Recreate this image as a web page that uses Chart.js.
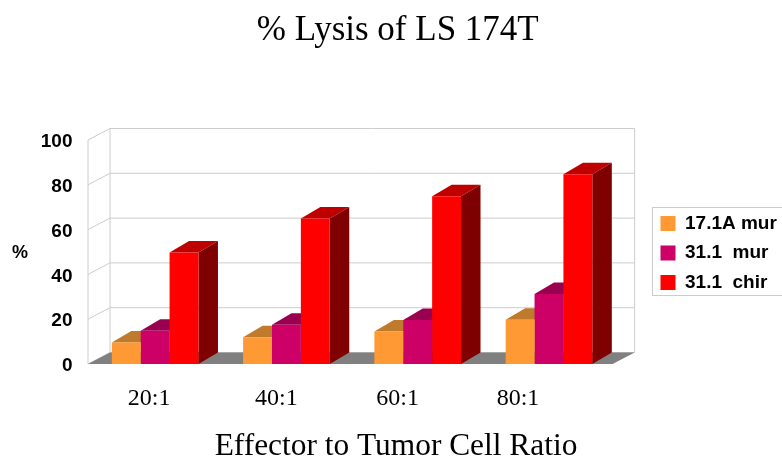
<!DOCTYPE html>
<html>
<head>
<meta charset="utf-8">
<title>% Lysis of LS 174T</title>
<script src="https://cdn.jsdelivr.net/npm/chart.js@4"></script>
<style>
  html, body { margin: 0; padding: 0; background: #fff; }
  #wrap { width: 782px; height: 456px; }
</style>
</head>
<body>
<div id="wrap"><canvas id="grafico" width="782" height="456"></canvas></div>
<script>
// ---- Data ----
const titulo = "% Lysis of LS 174T";
const tituloX = "Effector to Tumor Cell Ratio";
const tituloY = "%";
const categorias = ["20:1", "40:1", "60:1", "80:1"];
const serieNomes = ["17.1A mur", "31.1  mur", "31.1  chir"];
const mur171 = [9.6, 11.9, 14.5, 19.8];
const mur311 = [14.8, 17.5, 19.6, 31.2];
const chir311 = [49.8, 64.9, 74.9, 84.7];
const yTicks = [0, 20, 40, 60, 80, 100];

// the category labels sit left of their bar groups in the original
const labelNudge = [-6, -10, -20, -31];

const corFrente = ["#FF9933", "#CC0066", "#FF0000"];
const corTopo = ["#BF7A2B", "#99004F", "#BF0000"];
const corLado = ["#804D1A", "#660033", "#7F0000"];

const SERIF = "'Liberation Serif', serif";
const SANS = "'Liberation Sans', sans-serif";

// ---- Fake 3D: walls and floor behind, tops and sides of the bars ----
const caixa3d = {
  id: "caixa3d",
  afterLayout(chart) {
    const leg = chart.legend;
    const largura = leg.right - leg.left;
    leg.left = 650;
    leg.right = 650 + largura;
    leg.top = 203.5;
    leg.bottom = 340;
    chart.titleBlock.left += 22;
    chart.titleBlock.right += 22;
  },
  beforeDatasetsDraw(chart) {
    const { ctx, chartArea: a, scales } = chart;
    const frenteE = a.left - 1.5, frenteD = a.right - 2;
    const dx = 22, dy = 11.5;
    const y0 = scales.y.getPixelForValue(0);

    ctx.save();
    ctx.lineWidth = 1;
    ctx.strokeStyle = "#CCCCCC";

    // left wall + back wall gridlines
    yTicks.forEach((t) => {
      const y = scales.y.getPixelForValue(t);
      ctx.beginPath();
      ctx.moveTo(frenteE, y);
      ctx.lineTo(frenteE + dx, y - dy);
      ctx.lineTo(frenteD + dx, y - dy);
      ctx.stroke();
    });
    const yTop = scales.y.getPixelForValue(100);
    ctx.beginPath();
    ctx.moveTo(frenteE, y0); ctx.lineTo(frenteE, yTop);
    ctx.moveTo(frenteE + dx, y0 - dy); ctx.lineTo(frenteE + dx, yTop - dy);
    ctx.moveTo(frenteD + dx, y0 - dy); ctx.lineTo(frenteD + dx, yTop - dy);
    ctx.stroke();

    // floor
    ctx.fillStyle = "#808080";
    ctx.beginPath();
    ctx.moveTo(frenteE, y0);
    ctx.lineTo(frenteE + dx, y0 - dy);
    ctx.lineTo(frenteD + dx, y0 - dy);
    ctx.lineTo(frenteD, y0);
    ctx.closePath();
    ctx.fill();

    // tops and sides, fronts are painted over them by Chart.js
    const bx = 19.5, by = 11.5;
    chart.data.datasets.forEach((ds, i) => {
      chart.getDatasetMeta(i).data.forEach((bar) => {
        const e = bar.x - bar.width / 2, d = bar.x + bar.width / 2;
        ctx.fillStyle = corTopo[i];
        ctx.beginPath();
        ctx.moveTo(e, bar.y);
        ctx.lineTo(e + bx, bar.y - by);
        ctx.lineTo(d + bx, bar.y - by);
        ctx.lineTo(d, bar.y);
        ctx.closePath();
        ctx.fill();

        ctx.fillStyle = corLado[i];
        ctx.beginPath();
        ctx.moveTo(d, bar.y);
        ctx.lineTo(d + bx, bar.y - by);
        ctx.lineTo(d + bx, y0 - by);
        ctx.lineTo(d, y0);
        ctx.closePath();
        ctx.fill();
      });
    });
    ctx.restore();
  },
  afterDraw(chart) {
    const { ctx, scales } = chart;
    ctx.save();

    // legend frame
    ctx.strokeStyle = "#CCCCCC";
    ctx.lineWidth = 1;
    ctx.strokeRect(652.5, 207.5, 140, 88);

    // labels the scales cannot place where the original has them
    ctx.fillStyle = "#000";
    ctx.textAlign = "center";
    ctx.textBaseline = "middle";
    ctx.font = "24px " + SERIF;
    categorias.forEach((c, i) => {
      ctx.fillText(c, scales.x.getPixelForTick(i) + labelNudge[i], 399);
    });
    ctx.font = "31.4px " + SERIF;
    ctx.fillText(tituloX, 396, 447);
    ctx.font = "bold 18px " + SANS;
    ctx.fillText(tituloY, 20, 253);
    ctx.restore();
  },
};

new Chart(document.getElementById("grafico").getContext("2d"), {
  type: "bar",
  data: {
    labels: categorias,
    datasets: [mur171, mur311, chir311].map((valores, i) => ({
      label: serieNomes[i],
      data: valores,
      backgroundColor: corFrente[i],
      categoryPercentage: 0.66,
      barPercentage: 1,
    })),
  },
  options: {
    responsive: false,
    animation: false,
    layout: { padding: { right: 30.5 } },
    plugins: {
      title: {
        display: true,
        text: titulo,
        color: "#000",
        font: { family: SERIF, size: 35, weight: "normal" },
        padding: { top: 10, bottom: 88 },
      },
      legend: {
        position: "right",
        align: "start",
        labels: {
          color: "#000",
          boxWidth: 15,
          boxHeight: 15,
          padding: 10.5,
          font: { family: SANS, size: 19, weight: "bold" },
        },
      },
      tooltip: { enabled: false },
    },
    scales: {
      x: {
        grid: { display: false },
        border: { display: false },
        ticks: { display: false },
        afterFit: (s) => { s.height = 92; },
      },
      y: {
        min: 0,
        max: 100,
        grid: { display: false },
        border: { display: false },
        afterBuildTicks: (s) => { s.ticks = yTicks.map((v) => ({ value: v })); },
        ticks: {
          color: "#000",
          padding: 9,
          labelOffset: 2,
          font: { family: SANS, size: 19, weight: "bold" },
        },
        afterFit: (s) => { s.width = 89.5; },
      },
    },
  },
  plugins: [caixa3d],
});
</script>
</body>
</html>
